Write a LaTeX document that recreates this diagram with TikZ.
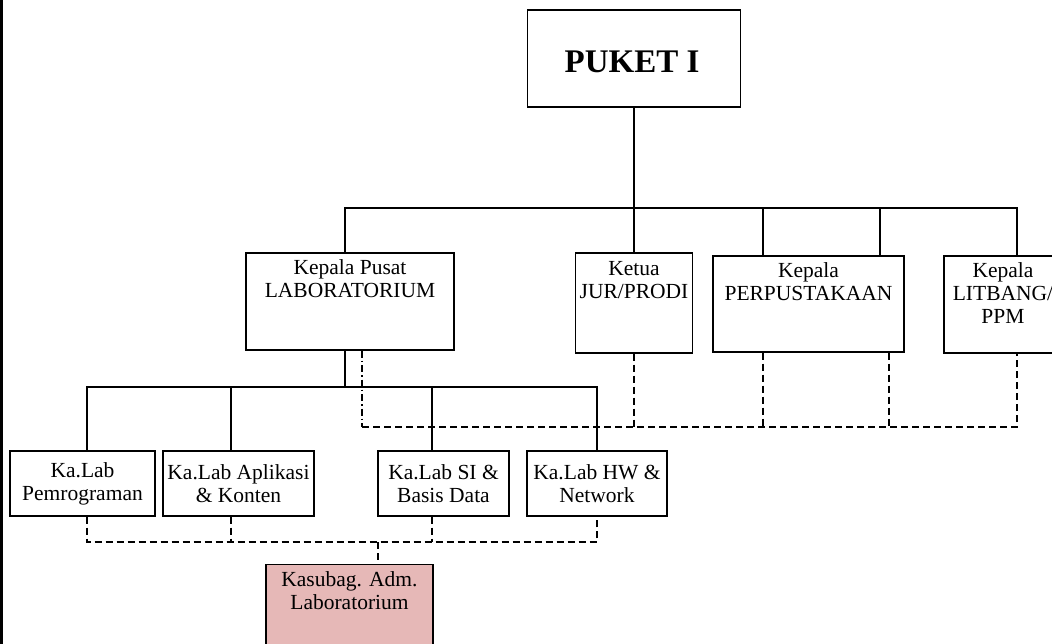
\documentclass[tikz,border=0pt]{standalone}
\usepackage{fontspec}
\setmainfont{Liberation Serif}
\usetikzlibrary{positioning}
\definecolor{admpink}{HTML}{E6B8B7}

\begin{document}
\begin{tikzpicture}[x=1pt,y=-1pt,
  box/.style={draw, line width=1.3pt, inner sep=0pt},
  txt/.style={align=center, inner sep=0pt, font=\fontsize{21.5}{23}\selectfont},
  link/.style={line width=1.3pt},
  dashlink/.style={line width=1.3pt, dash pattern=on 7pt off 4pt},
  dotlink/.style={line width=1.3pt, dash pattern=on 7pt off 3pt on 1.5pt off 3pt}]
  \useasboundingbox (0,0) rectangle (1052,644);
  \clip (0,0) rectangle (1052,644);
  \draw[line width=2.5pt] (1.5,0) -- (1.5,644);

  \node[box, minimum width=213, minimum height=97] (puket) at (634,58.5) {};
  \node[txt, font=\fontsize{33}{36}\selectfont\bfseries] (puketT) at (632,62) {PUKET I};

  \node[box, minimum width=208, minimum height=97] (lab) at (350,301.5) {};
  \node[txt, below=7pt of lab.north] (labT) {Kepala Pusat\\LABORATORIUM};
  \node[box, minimum width=117, minimum height=100] (ketua) at (634,303) {};
  \node[txt, below=9pt of ketua.north] (ketuaT) {Ketua\\JUR/PRODI};
  \node[box, minimum width=191, minimum height=96] (perpus) at (808.5,304) {};
  \node[txt, below=7pt of perpus.north] (perpusT) {Kepala\\PERPUSTAKAAN};
  \node[box, minimum width=118, minimum height=97] (litbang) at (1003,304.5) {};
  \node[txt, below=7pt of litbang.north] (litbangT) {Kepala\\LITBANG/\\PPM};

  \node[box, txt, minimum width=145, minimum height=65] (prog) at (82.5,483.5) {Ka.Lab\\Pemrograman};
  \node[box, txt, minimum width=151, minimum height=65] (apl) at (238.5,483.5) {Ka.Lab Aplikasi\\\& Konten};
  \node[box, txt, minimum width=131, minimum height=65] (si) at (443.5,483.5) {Ka.Lab SI \&\\Basis Data};
  \node[box, txt, minimum width=140, minimum height=65] (hw) at (597,483.5) {Ka.Lab HW \&\\Network};

  \node[box, fill=admpink, minimum width=167, minimum height=115] (adm) at (349.5,622) {};
  \node[txt, below=8pt of adm.north] (admT) {Kasubag. Adm.\\Laboratorium};

  \coordinate (bus) at (634,208);
  \coordinate (dbus) at (634,427);
  \coordinate (lbus) at (345,387);
  \coordinate (abus) at (378,542);

  \draw[link] (puket.south) -- (puket.south |- ketua.north);
  \draw[link] ([xshift=-5]lab.north) |- (bus) -| ([xshift=14]litbang.north);
  \draw[link] ([xshift=-45.5]perpus.north) -- ([xshift=-45.5]perpus.north |- bus);
  \draw[link] ([xshift=71.5]perpus.north) -- ([xshift=71.5]perpus.north |- bus);

  \draw[dotlink] ([xshift=12]lab.south) -- ([xshift=12]lab.south |- dbus);
  \draw[dashlink] ([xshift=12]lab.south |- dbus) -| ([xshift=14]litbang.south);
  \draw[dashlink] (ketua.south) -- (ketua.south |- dbus);
  \draw[dashlink] ([xshift=-45.5]perpus.south) -- ([xshift=-45.5]perpus.south |- dbus);
  \draw[dashlink] ([xshift=80.5]perpus.south) -- ([xshift=80.5]perpus.south |- dbus);

  \draw[link] ([xshift=-5]lab.south) -- (lbus);
  \draw[link] ([xshift=4.5]prog.north) |- (lbus) -| (hw.north);
  \draw[link] ([xshift=-7.5]apl.north) -- ([xshift=-7.5]apl.north |- lbus);
  \draw[link] ([xshift=-11.5]si.north) -- ([xshift=-11.5]si.north |- lbus);

  \draw[dashlink] ([xshift=4.5]prog.south) |- (abus) -| (hw.south);
  \draw[dashlink] ([xshift=-7.5]apl.south) -- ([xshift=-7.5]apl.south |- abus);
  \draw[dashlink] ([xshift=-11.5]si.south) -- ([xshift=-11.5]si.south |- abus);
  \draw[dashlink] (abus) -- (abus |- adm.north);
\end{tikzpicture}
\end{document}
